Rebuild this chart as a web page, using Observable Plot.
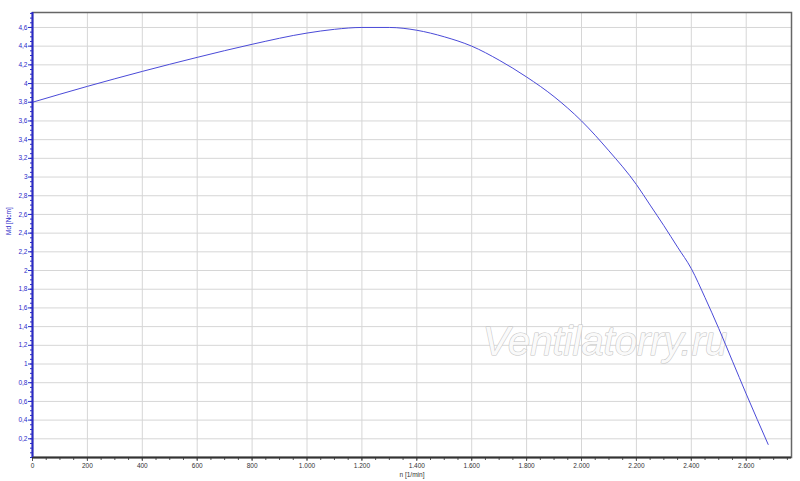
<!DOCTYPE html>
<html>
<head>
<meta charset="utf-8">
<script src="https://cdn.jsdelivr.net/npm/d3@7"></script>
<script src="https://cdn.jsdelivr.net/npm/@observablehq/plot@0.6"></script>
<style>
  html, body { margin: 0; padding: 0; background: #fff; }
  svg { font-family: "Liberation Sans", Arial, sans-serif; }
</style>
</head>
<body>
<div id="chart"></div>
<script>
// Speed (rpm) vs torque (Ncm)
const rpm    = [0, 200, 400, 600, 800, 1000, 1100, 1200, 1300, 1400, 1500, 1600, 1700, 1800, 1900, 2000, 2100, 2200, 2250, 2300, 2350, 2400, 2450, 2500, 2550, 2600, 2680];
const torque = [3.80, 3.97, 4.13, 4.28, 4.42, 4.54, 4.58, 4.60, 4.60, 4.57, 4.50, 4.40, 4.25, 4.07, 3.86, 3.60, 3.28, 2.92, 2.70, 2.48, 2.25, 2.02, 1.71, 1.38, 1.03, 0.68, 0.14];

const xTicks = [0, 200, 400, 600, 800, 1000, 1200, 1400, 1600, 1800, 2000, 2200, 2400, 2600];
const xMinorTicks = d3.range(0, 2800, 50);
const yTicks = [0.2, 0.4, 0.6, 0.8, 1, 1.2, 1.4, 1.6, 1.8, 2, 2.2, 2.4, 2.6, 2.8, 3, 3.2, 3.4, 3.6, 3.8, 4, 4.2, 4.4, 4.6];
const yMinorTicks = d3.range(0, 96).map(i => i / 20);

const xLabel = "n [1/min]";
const yLabel = "Md [Ncm]";
const watermark = "Ventilatorry.ru";

const data = rpm.map((r, i) => ({ rpm: r, torque: torque[i] }));

const fmtX = d => d >= 1000 ? d3.format(",")(d).replace(/,/g, ".") : String(d);
const fmtY = d => String(+d.toFixed(1)).replace(".", ",");

const blue = "#2a2ac8";
const lineBlue = "#4a4ad8";

const chart = Plot.plot({
  width: 800,
  height: 481,
  marginLeft: 32,
  marginRight: 9,
  marginTop: 12,
  marginBottom: 24,
  style: { fontFamily: "Liberation Sans, Arial, sans-serif", background: "#fff" },
  x: { domain: [0, 2765], label: null },
  y: { domain: [0, 4.76], label: null },
  marks: [
    Plot.gridX(xTicks, { stroke: "#d6d6d6", strokeOpacity: 1, strokeWidth: 1 }),
    Plot.gridY(yTicks, { stroke: "#d6d6d6", strokeOpacity: 1, strokeWidth: 1 }),
    Plot.text([watermark], { text: d => d, frameAnchor: "middle", dx: 193, dy: 107, fontSize: 40, fontStyle: "italic", fill: "#fafafa", stroke: "#c4c4c4", strokeWidth: 1.1 }),
    Plot.frame({ stroke: "#666", strokeWidth: 1.5 }),
    Plot.line(data, { x: "rpm", y: "torque", stroke: lineBlue, strokeWidth: 1, curve: "monotone-x" }),
    Plot.axisX(xMinorTicks, { tickSize: 3, text: null, stroke: "#555", label: null }),
    Plot.axisX(xTicks, { tickSize: 4, tickPadding: 2, tickFormat: fmtX, fontSize: 6.5, fill: "#333", stroke: "#555", label: null }),
    Plot.axisY(yMinorTicks, { tickSize: 2, text: null, stroke: blue, label: null }),
    Plot.axisY(yTicks, { tickSize: 4, tickPadding: 1, tickFormat: fmtY, fontSize: 6.5, fill: blue, stroke: blue, label: null }),
    Plot.ruleY([0], { stroke: "#333", strokeWidth: 2 }),
    Plot.ruleX([0], { stroke: blue, strokeWidth: 2 }),
    Plot.text([xLabel], { text: d => d, frameAnchor: "bottom", dy: 19, fontSize: 6.5, fill: "#333" }),
    Plot.text([yLabel], { text: d => d, frameAnchor: "left", dx: -24, rotate: -90, fontSize: 6.5, fill: blue })
  ]
});

document.getElementById("chart").appendChild(chart);
</script>
</body>
</html>
